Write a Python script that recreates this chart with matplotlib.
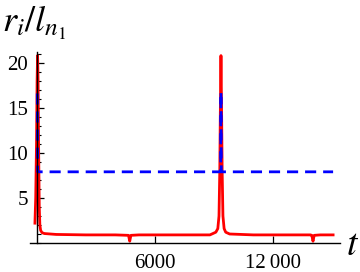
import matplotlib
matplotlib.use("Agg")
import matplotlib.pyplot as plt
from matplotlib.ticker import MultipleLocator

plt.rcParams["mathtext.fontset"] = "stix"
plt.rcParams["font.family"] = ["Liberation Serif", "DejaVu Serif"]

# red curve r_i / l_{n_1}
t_red = [-80, -40, 0, 30, 55, 80, 110, 140, 170, 210, 280, 400, 1000, 2500,
         4000, 4670, 4730, 4790, 5200, 7000, 8800, 9100, 9200, 9260, 9300,
         9330, 9360, 9390, 9420, 9460, 9520, 9600, 9800, 11000, 12500, 13900,
         13970, 14030, 14090, 14400, 15050]
r_red = [2.2, 5.0, 11.0, 18.0, 20.8, 18.0, 10.0, 4.0, 2.0, 1.4, 1.15, 1.05,
         0.95, 0.9, 0.9, 0.85, 0.2, 0.85, 0.9, 0.9, 0.9, 1.2, 1.6, 3.0, 8.0,
         15.0, 20.8, 15.0, 8.0, 3.0, 1.6, 1.2, 1.0, 0.9, 0.9, 0.9, 0.85, 0.2,
         0.85, 0.9, 0.9]

# blue dashed curve
t_blue = [40, 60, 9345, 9360, 9375, 15050]
r_blue = [16.6, 7.9, 7.9, 16.8, 7.9, 7.9]

x_ticks = [6000, 12000]
x_labels = ["6000", "12\u2009000"]
y_ticks = [5, 10, 15, 20]

fig = plt.figure(figsize=(3.6, 2.72), dpi=100)
ax = fig.add_axes([30 / 360, 29 / 272, 310 / 360, 191 / 272])

ax.plot(t_red, r_red, color="#ff0000", lw=2.0, solid_joinstyle="round")
ax.plot(t_blue, r_blue, color="#0000ff", lw=2.0, dashes=(4, 2.5))

ax.set_xlim(-330, 15400)
ax.set_ylim(0, 21.2)

ax.spines["left"].set_position(("data", 0))
ax.spines["right"].set_visible(False)
ax.spines["top"].set_visible(False)
for s in ("left", "bottom"):
    ax.spines[s].set_linewidth(1.0)

ax.set_xticks(x_ticks)
ax.set_xticklabels(x_labels)
ax.set_yticks(y_ticks)
ax.yaxis.set_minor_locator(MultipleLocator(1))
ax.tick_params(direction="in", length=5, width=0.9, labelsize=15, pad=6)
ax.tick_params(which="minor", direction="in", length=3, width=0.8)
ax.tick_params(axis="x", pad=8)

fig.text(2 / 360, (272 - 32) / 272, r"$r_i/l_{n_1}$", fontsize=26,
         va="baseline", ha="left")
fig.text(346 / 360, (272 - 255) / 272, r"$t$", fontsize=27,
         va="baseline", ha="left")

fig.savefig("out.png", dpi=100)
